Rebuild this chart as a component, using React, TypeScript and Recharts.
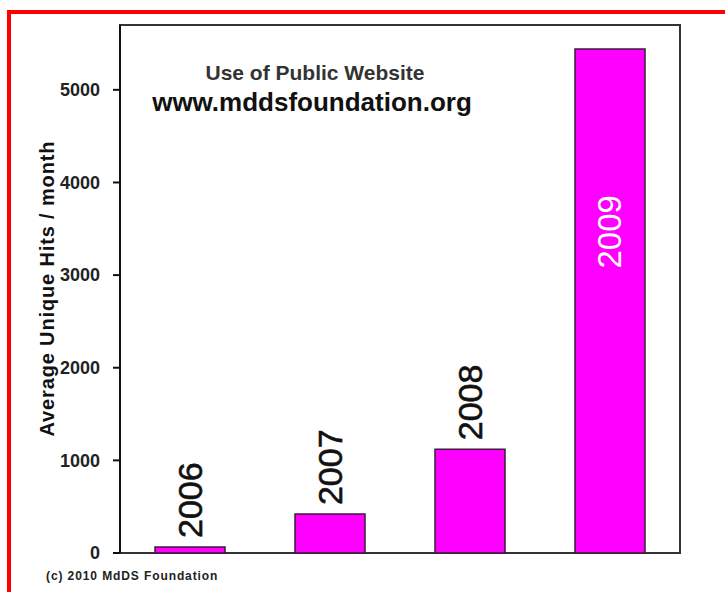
import { BarChart, Bar, XAxis, YAxis, LabelList, ReferenceArea } from "recharts";

const years = ["2006", "2007", "2008", "2009"];
const hits = [65, 420, 1120, 5440];
const yTicks = [0, 1000, 2000, 3000, 4000, 5000];
const Y_MAX = 5700;
const INSIDE_LABEL = "2009";

const data = years.map((year, i) => ({ year, hits: hits[i] }));

const FONT = "Arial, 'Liberation Sans', sans-serif";

function YearLabel(props: any) {
  const { x, y, width, value } = props;
  const cx = x + width / 2;
  if (value === INSIDE_LABEL) {
    const ty = y + 146;
    return (
      <text
        x={cx}
        y={ty}
        transform={`rotate(-90, ${cx}, ${ty})`}
        textAnchor="end"
        dominantBaseline="central"
        fill="#ffffff"
        fontSize={33}
        fontFamily={FONT}
      >
        {value}
      </text>
    );
  }
  const ty = y - 9;
  return (
    <text
      x={cx}
      y={ty}
      transform={`rotate(-90, ${cx}, ${ty})`}
      textAnchor="start"
      dominantBaseline="central"
      fill="#111"
      stroke="#111"
      strokeWidth={0.6}
      fontSize={34}
      fontFamily={FONT}
    >
      {value}
    </text>
  );
}

function AxisTitle(props: any) {
  const vb = props.viewBox || { x: 0, y: 25, width: 120, height: 528 };
  const tx = vb.x + 47;
  const ty = vb.y + vb.height / 2;
  return (
    <text
      x={tx}
      y={ty}
      transform={`rotate(-90, ${tx}, ${ty})`}
      textAnchor="middle"
      dominantBaseline="central"
      fill="#111"
      fontSize={20}
      fontWeight="bold"
      fontFamily={FONT}
      textLength={295}
    >
      Average Unique Hits / month
    </text>
  );
}

export default function App() {
  return (
    <div style={{ position: "absolute", left: 0, top: 0, width: 725, height: 592, background: "#fff", overflow: "hidden" }}>
      <div
        style={{
          position: "absolute",
          left: 7,
          top: 10,
          width: 760,
          height: 640,
          borderTop: "4px solid #ff0000",
          borderLeft: "4px solid #ff0000",
          pointerEvents: "none",
        }}
      />
      <BarChart
        width={725}
        height={592}
        data={data}
        margin={{ top: 25, right: 45, bottom: 39, left: 0 }}
      >
        <XAxis dataKey="year" hide />
        <YAxis
          width={120}
          domain={[0, Y_MAX]}
          ticks={yTicks}
          axisLine={{ stroke: "#111", strokeWidth: 2 }}
          tickLine={{ stroke: "#111", strokeWidth: 2 }}
          tickSize={7}
          tickMargin={13}
          tick={{ fill: "#222", fontSize: 18, fontWeight: "bold", fontFamily: FONT }}
          label={{ content: AxisTitle }}
        />
        <ReferenceArea y1={0} y2={Y_MAX} fill="none" stroke="#333" strokeWidth={2} />
        <Bar
          dataKey="hits"
          fill="#ff00ff"
          stroke="#3a1a3a"
          strokeWidth={1.5}
          barSize={70}
          isAnimationActive={false}
        >
          <LabelList dataKey="year" content={YearLabel} />
        </Bar>
      </BarChart>
      <div
        style={{
          position: "absolute",
          left: 315,
          top: 61,
          transform: "translateX(-50%)",
          whiteSpace: "nowrap",
          fontFamily: FONT,
          fontWeight: "bold",
          fontSize: 21,
          color: "#333",
          lineHeight: "24px",
        }}
      >
        Use of Public Website
      </div>
      <div
        style={{
          position: "absolute",
          left: 312,
          top: 86,
          transform: "translateX(-50%)",
          whiteSpace: "nowrap",
          fontFamily: FONT,
          fontWeight: "bold",
          fontSize: 26,
          color: "#111",
          lineHeight: "32px",
        }}
      >
        www.mddsfoundation.org
      </div>
      <div
        style={{
          position: "absolute",
          left: 46,
          top: 569,
          whiteSpace: "nowrap",
          fontFamily: FONT,
          fontWeight: "bold",
          fontSize: 12,
          letterSpacing: 0.9,
          color: "#222",
          lineHeight: "14px",
        }}
      >
        (c) 2010 MdDS Foundation
      </div>
    </div>
  );
}
